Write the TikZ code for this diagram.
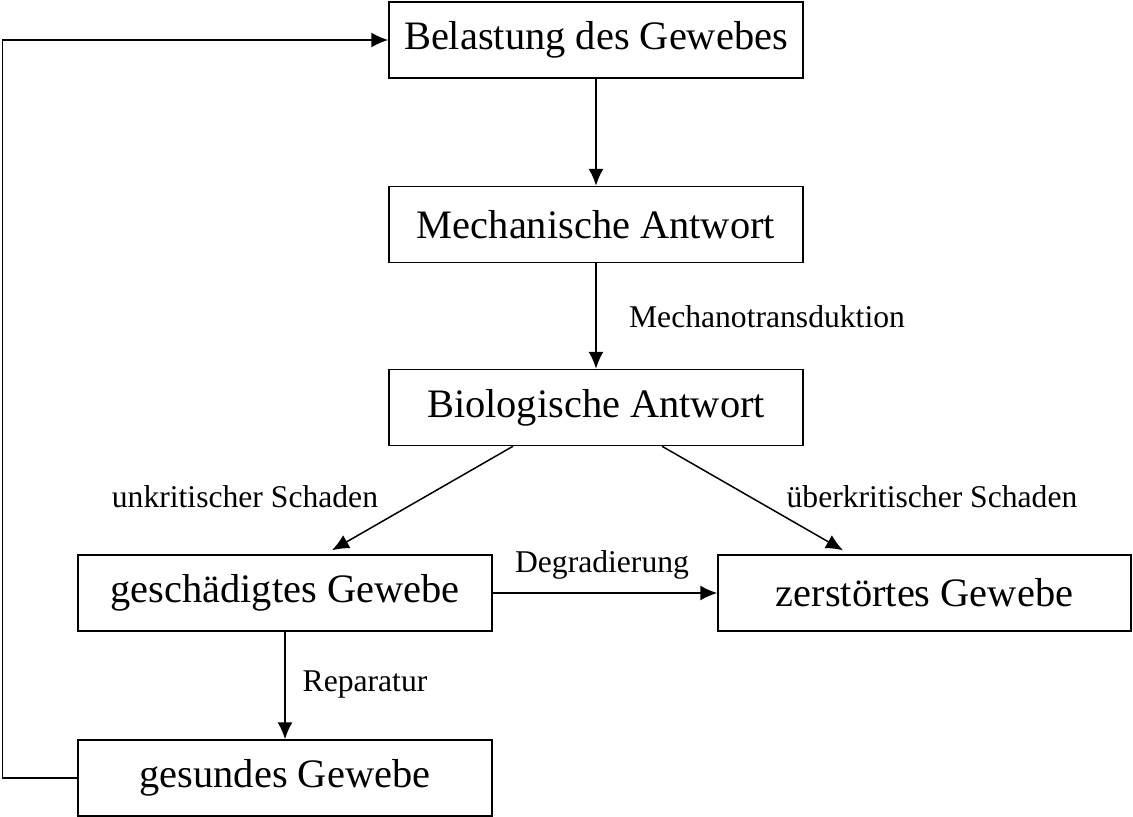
\documentclass[tikz,border=0pt]{standalone}
\usepackage{fontspec}
\setmainfont{Liberation Serif}
\usetikzlibrary{arrows.meta,calc}

\begin{document}
\begin{tikzpicture}[
  box/.style={draw=black,line width=0.85pt,minimum width=8.28cm,minimum height=1.52cm,inner sep=0pt,font=\fontsize{23}{27}\selectfont},
  lbl/.style={font=\fontsize{18}{22}\selectfont,inner sep=0pt},
  arrow/.style={-{Latex[length=3.4mm,width=3mm]},line width=0.85pt}
]
\useasboundingbox (0,0) rectangle (22.66,-16.34);

\node[box] (belastung) at (11.92,-0.80) {Belastung des Gewebes};
\node[box] (mechanisch) at (11.92,-4.49) {Mechanische Antwort};
\node[box] (biologisch) at (11.92,-8.15) {Biologische Antwort};
\node[box] (geschaedigt) at (5.70,-11.86) {geschädigtes Gewebe};
\node[box,minimum width=8.26cm] (zerstoert) at (18.49,-11.86) {zerstörtes Gewebe};
\node[box] (gesund) at (5.70,-15.56) {gesundes Gewebe};

\node[lbl] (transduktion) at (15.34,-6.34) {Mechanotransduktion};
\node[lbl] (unkritisch) at (4.90,-9.94) {unkritischer Schaden};
\node[lbl] (ueberkritisch) at (18.64,-9.94) {überkritischer Schaden};
\node[lbl] (degradierung) at (12.04,-11.30) {Degradierung};
\node[lbl] (reparatur) at (7.30,-13.70) {Reparatur};

\draw[arrow] (belastung) -- (mechanisch);
\draw[arrow] (mechanisch) -- (biologisch);
\draw[arrow] ([xshift=-1.66cm]biologisch.south) -- ([xshift=0.94cm,yshift=0.08cm]geschaedigt.north);
\draw[arrow] ([xshift=1.32cm]biologisch.south) -- ([xshift=-1.63cm,yshift=0.08cm]zerstoert.north);
\draw[arrow] (geschaedigt) -- (zerstoert);
\draw[arrow] (geschaedigt) -- (gesund);
\coordinate (ruecklauf) at ($(gesund.west)+(-1.50,0)$);
\draw[arrow] (gesund.west) -- (ruecklauf) |- (belastung.west);
\end{tikzpicture}
\end{document}
